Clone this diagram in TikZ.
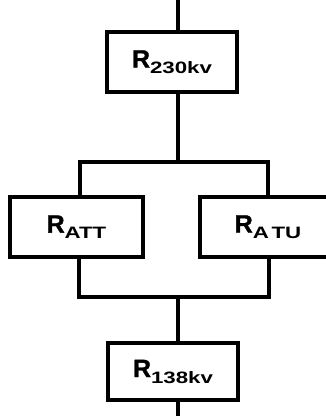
\documentclass[tikz,border=0pt]{standalone}
\usepackage{fontspec}
\setmainfont{Liberation Sans}
\newfontfamily\widefont[FakeStretch=1.35]{Liberation Sans}
\newfontfamily\heavyfont[FakeBold=1.2]{Liberation Sans Bold}
\newcommand{\rlabel}[1]{\heavyfont\fontsize{25}{25}\selectfont R\raisebox{-6pt}{\widefont\bfseries\fontsize{16.5}{16.5}\selectfont #1}}
\tikzset{
  relbox/.style={draw, line width=4pt, fill=white, inner sep=0pt},
  wire/.style={line width=4pt}
}
\begin{document}
\begin{tikzpicture}[x=1pt,y=-1pt]
  \useasboundingbox (0,0) rectangle (325,416);

  \node [relbox, minimum width=130pt, minimum height=60pt] (R230) at (172,62)  {\rlabel{230kv}};
  \node [relbox, minimum width=133pt, minimum height=60pt] (RATT) at (76.5,227) {\rlabel{ATT}};
  \node [relbox, minimum width=136pt, minimum height=60pt] (RATU) at (268,227) {\rlabel{A\,TU}};
  \node [relbox, minimum width=130pt, minimum height=57pt] (R138) at (173,371.5) {\rlabel{138kv}};

  \coordinate (top)   at (178,0);
  \coordinate (split) at (178,162);
  \coordinate (splitL) at (80,162);
  \coordinate (splitR) at (268,162);
  \coordinate (mergeL) at (79,297);
  \coordinate (mergeR) at (269,297);
  \coordinate (merge) at (178,297);
  \coordinate (bottom) at (178,416);

  \draw [wire] (top) -- (top |- R230.north);
  \draw [wire] (split |- R230.south) -- (split);
  \draw [wire, line cap=rect] (splitL) -- (splitR);
  \draw [wire] (splitL) -- (splitL |- RATT.north);
  \draw [wire] (splitR) -- (splitR |- RATU.north);

  \draw [wire] (mergeL |- RATT.south) -- (mergeL);
  \draw [wire] (mergeR |- RATU.south) -- (mergeR);
  \draw [wire, line cap=rect] (mergeL) -- (mergeR);
  \draw [wire] (merge) -- (merge |- R138.north);
  \draw [wire] (bottom |- R138.south) -- (bottom);
\end{tikzpicture}
\end{document}
